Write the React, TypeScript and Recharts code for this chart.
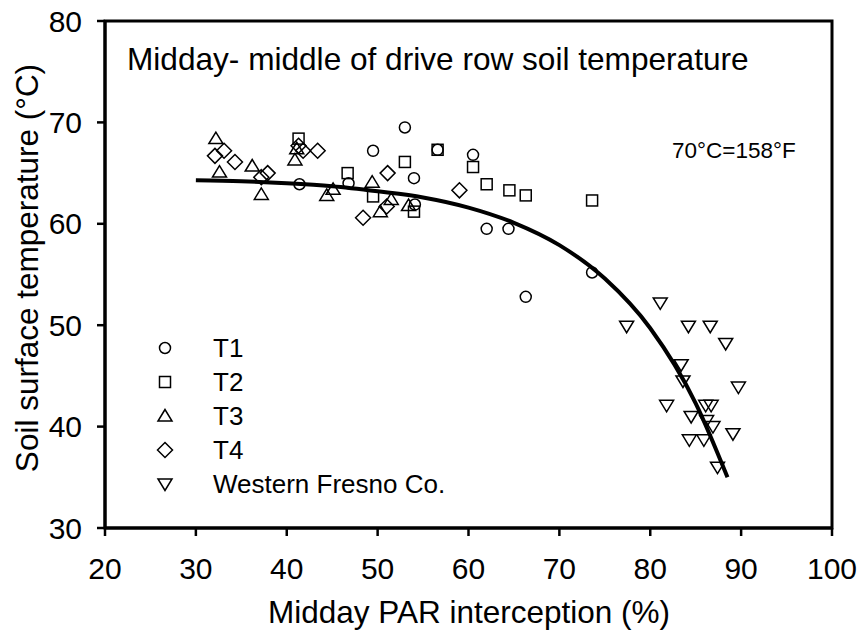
import { ComposedChart, Line, ReferenceArea, Scatter, XAxis, YAxis } from "recharts";

const FONT = "'Liberation Sans', Arial, sans-serif";

const xTicks = [20, 30, 40, 50, 60, 70, 80, 90, 100];
const yTicks = [30, 40, 50, 60, 70, 80];

// T1 (circles)
const t1 = [
  { x: 41.4, y: 63.9 }, { x: 46.8, y: 64.0 }, { x: 49.5, y: 67.2 }, { x: 53.0, y: 69.5 },
  { x: 54.0, y: 64.5 }, { x: 54.1, y: 61.9 }, { x: 56.6, y: 67.3 }, { x: 60.5, y: 66.8 },
  { x: 62.0, y: 59.5 }, { x: 64.4, y: 59.5 }, { x: 66.3, y: 52.8 }, { x: 73.6, y: 55.2 },
];

// T2 (squares)
const t2 = [
  { x: 41.3, y: 68.4 }, { x: 46.7, y: 65.0 }, { x: 49.5, y: 62.7 }, { x: 53.0, y: 66.1 },
  { x: 54.0, y: 61.2 }, { x: 56.6, y: 67.3 }, { x: 60.5, y: 65.6 }, { x: 62.0, y: 63.9 },
  { x: 64.5, y: 63.3 }, { x: 66.3, y: 62.8 }, { x: 73.6, y: 62.3 },
];

// T3 (triangles up)
const t3 = [
  { x: 32.2, y: 68.4 }, { x: 32.6, y: 65.1 }, { x: 36.2, y: 65.7 }, { x: 37.2, y: 62.9 },
  { x: 40.9, y: 66.3 }, { x: 41.1, y: 67.4 }, { x: 44.4, y: 62.8 }, { x: 45.1, y: 63.4 },
  { x: 49.4, y: 64.1 }, { x: 50.3, y: 61.2 }, { x: 51.5, y: 62.4 }, { x: 53.4, y: 61.8 },
];

// T4 (diamonds)
const t4 = [
  { x: 32.1, y: 66.7 }, { x: 33.1, y: 67.2 }, { x: 34.3, y: 66.1 }, { x: 37.2, y: 64.6 },
  { x: 37.9, y: 65.0 }, { x: 41.3, y: 67.7 }, { x: 41.8, y: 67.2 }, { x: 43.4, y: 67.2 },
  { x: 48.4, y: 60.6 }, { x: 51.0, y: 61.7 }, { x: 51.1, y: 65.0 }, { x: 59.0, y: 63.3 },
];

// Western Fresno Co. (triangles down)
const fresno = [
  { x: 77.4, y: 49.9 }, { x: 81.1, y: 52.2 }, { x: 81.8, y: 42.1 }, { x: 83.4, y: 46.1 },
  { x: 83.6, y: 44.5 }, { x: 84.2, y: 49.9 }, { x: 84.3, y: 38.7 }, { x: 84.5, y: 41.0 },
  { x: 85.9, y: 38.7 }, { x: 86.1, y: 42.1 }, { x: 86.2, y: 40.6 }, { x: 86.6, y: 49.9 },
  { x: 86.7, y: 42.1 }, { x: 86.9, y: 40.0 }, { x: 87.4, y: 36.0 }, { x: 88.3, y: 48.2 },
  { x: 89.1, y: 39.3 }, { x: 89.7, y: 43.9 },
];

// fitted curve
const fit = [
  { x: 30, y: 64.3 }, { x: 35, y: 64.2 }, { x: 40, y: 64.0 }, { x: 45, y: 63.7 },
  { x: 50, y: 63.2 }, { x: 55, y: 62.6 }, { x: 60, y: 61.6 }, { x: 65, y: 60.1 },
  { x: 70, y: 57.9 }, { x: 75, y: 54.6 }, { x: 80, y: 49.7 }, { x: 85, y: 42.3 },
  { x: 88.5, y: 35.0 },
];

type Kind = "circle" | "square" | "up" | "diamond" | "down";

function marker(kind: Kind, cx: number, cy: number, key?: string) {
  const p = { fill: "none", stroke: "#000", strokeWidth: 1.5 };
  switch (kind) {
    case "circle":
      return <circle key={key} cx={cx} cy={cy} r={5.5} {...p} />;
    case "square":
      return <rect key={key} x={cx - 5.5} y={cy - 5.5} width={11} height={11} {...p} />;
    case "up":
      return <polygon key={key} points={`${cx},${cy - 6.5} ${cx - 7},${cy + 5} ${cx + 7},${cy + 5}`} {...p} />;
    case "diamond":
      return <polygon key={key} points={`${cx},${cy - 7.5} ${cx + 7.5},${cy} ${cx},${cy + 7.5} ${cx - 7.5},${cy}`} {...p} />;
    default:
      return <polygon key={key} points={`${cx - 7},${cy - 5} ${cx + 7},${cy - 5} ${cx},${cy + 6.5}`} {...p} />;
  }
}

const shapeOf = (kind: Kind) => (props: any) => marker(kind, props.cx, props.cy);

const legendItems: { label: string; kind: Kind }[] = [
  { label: "T1", kind: "circle" },
  { label: "T2", kind: "square" },
  { label: "T3", kind: "up" },
  { label: "T4", kind: "diamond" },
  { label: "Western Fresno Co.", kind: "down" },
];

export default function App() {
  const tickStyle = { fill: "#000", fontSize: 30, fontFamily: FONT };
  return (
    <div style={{ position: "absolute", left: 0, top: 0, background: "#fff" }}>
      <ComposedChart width={863} height={630} margin={{ top: 21, right: 31, left: 0, bottom: 0 }}>
        <XAxis
          type="number"
          dataKey="x"
          domain={[20, 100]}
          ticks={xTicks}
          height={102}
          axisLine={{ stroke: "#000", strokeWidth: 3 }}
          tickLine={{ stroke: "#000", strokeWidth: 2.5 }}
          tickSize={8}
          tickMargin={22}
          tick={tickStyle}
          allowDataOverflow
        />
        <YAxis
          type="number"
          dataKey="y"
          domain={[30, 80]}
          ticks={yTicks}
          width={105}
          axisLine={{ stroke: "#000", strokeWidth: 3 }}
          tickLine={{ stroke: "#000", strokeWidth: 2.5 }}
          tickSize={8}
          tickMargin={15}
          tick={tickStyle}
          allowDataOverflow
        />
        <ReferenceArea x1={20} x2={100} y1={30} y2={80} fill="none" stroke="#000" strokeWidth={3} />
        <Scatter data={t1} shape={shapeOf("circle")} isAnimationActive={false} />
        <Scatter data={t2} shape={shapeOf("square")} isAnimationActive={false} />
        <Scatter data={t3} shape={shapeOf("up")} isAnimationActive={false} />
        <Scatter data={t4} shape={shapeOf("diamond")} isAnimationActive={false} />
        <Scatter data={fresno} shape={shapeOf("down")} isAnimationActive={false} />
        <Line data={fit} dataKey="y" type="monotone" stroke="#000" strokeWidth={4} dot={false} isAnimationActive={false} />

        <text x={127} y={70} fontSize={31.6} fontFamily={FONT} fill="#000">
          Midday- middle of drive row soil temperature
        </text>
        <text x={672} y={158} fontSize={22.5} fontFamily={FONT} fill="#000">
          70°C=158°F
        </text>
        <text x={469} y={623} fontSize={31.5} fontFamily={FONT} fill="#000" textAnchor="middle">
          Midday PAR interception (%)
        </text>
        <text
          x={38}
          y={268}
          transform="rotate(-90, 38, 268)"
          fontSize={31.5}
          fontFamily={FONT}
          fill="#000"
          textAnchor="middle"
        >
          Soil surface temperature (°C)
        </text>
        <g>
          {legendItems.map((item, i) => {
            const cy = 348 + i * 34;
            return (
              <g key={item.label}>
                {marker(item.kind, 165, cy)}
                <text x={213} y={cy + 9} fontSize={26} fontFamily={FONT} fill="#000">
                  {item.label}
                </text>
              </g>
            );
          })}
        </g>
      </ComposedChart>
    </div>
  );
}
